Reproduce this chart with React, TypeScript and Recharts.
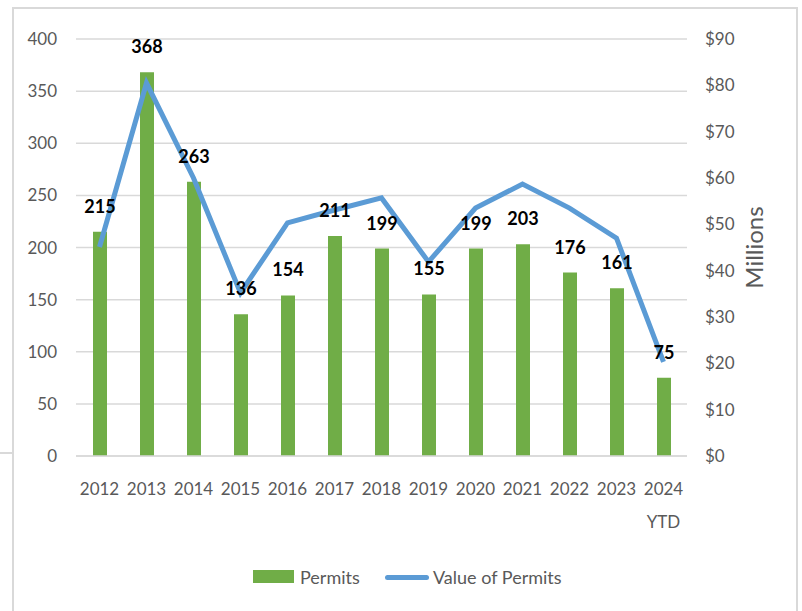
import { ComposedChart, Bar, Line, XAxis, YAxis, CartesianGrid, LabelList, Label } from 'recharts'

const years = ['2012', '2013', '2014', '2015', '2016', '2017', '2018', '2019', '2020', '2021', '2022', '2023', '2024 YTD']
const permits = [215, 368, 263, 136, 154, 211, 199, 155, 199, 203, 176, 161, 75]
const valueMillions = [45.1, 80.5, 60, 35.2, 50.3, 53.1, 55.7, 41.9, 53.5, 58.7, 53.5, 47, 20.3]
const permitTicks = [0, 50, 100, 150, 200, 250, 300, 350, 400]
const valueTicks = [0, 10, 20, 30, 40, 50, 60, 70, 80, 90]

const data = years.map((year, i) => ({ year, permits: permits[i], value: valueMillions[i] }))

const GREEN = '#70AD47'
const BLUE = '#5B9BD5'
const GRID = '#D9D9D9'
const TEXT = '#595959'
const FONT = 'Lato, sans-serif'

function YearTick({ x, y, payload }: any) {
  const lines = String(payload.value).split(' ')
  return (
    <text x={x} y={y + 39} textAnchor="middle" fill={TEXT} fontSize={17} fontFamily={FONT}>
      {lines.map((l, i) => (
        <tspan key={i} x={x} dy={i === 0 ? 0 : 33}>
          {l}
        </tspan>
      ))}
    </text>
  )
}

function BarValue({ x, y, width, value }: any) {
  return (
    <text x={x + width / 2} y={y - 19} textAnchor="middle" fill="#000" fontSize={18} fontWeight="bold" fontFamily={FONT}>
      {value}
    </text>
  )
}

function MillionsLabel({ viewBox }: any) {
  const cx = viewBox.x + viewBox.width / 2 + 16
  const cy = viewBox.y + viewBox.height / 2
  return (
    <text
      x={cx}
      y={cy}
      transform={`rotate(-90, ${cx}, ${cy})`}
      textAnchor="middle"
      dominantBaseline="central"
      fill={TEXT}
      fontSize={24}
      fontFamily={FONT}
    >
      Millions
    </text>
  )
}

export default function App() {
  return (
    <div style={{ position: 'absolute', left: 0, top: 0, width: 802, height: 611, background: '#fff', overflow: 'hidden' }}>
      <div style={{ position: 'absolute', left: 12, top: 7, width: 782, height: 620, border: `2px solid ${GRID}` }} />
      <div style={{ position: 'absolute', left: 0, top: 452, width: 13, height: 2, background: GRID }} />
      <div style={{ position: 'absolute', left: 0, top: 0 }}>
        <ComposedChart width={802} height={611} data={data} margin={{ top: 39, right: 15, bottom: 95, left: 16 }}>
          <CartesianGrid vertical={false} stroke={GRID} strokeWidth={1.5} yAxisId="left" />
          <XAxis
            dataKey="year"
            height={60}
            axisLine={{ stroke: GRID, strokeWidth: 1.5 }}
            tickLine={false}
            tickSize={0}
            tickMargin={0}
            interval={0}
            tick={<YearTick />}
          />
          <YAxis
            yAxisId="left"
            width={60}
            domain={[0, 400]}
            ticks={permitTicks}
            axisLine={false}
            tickLine={false}
            tickSize={0}
            tickMargin={19}
            tick={{ fill: TEXT, fontSize: 17, fontFamily: FONT }}
          />
          <YAxis
            yAxisId="right"
            orientation="right"
            width={100}
            domain={[0, 90]}
            ticks={valueTicks}
            axisLine={false}
            tickLine={false}
            tickSize={0}
            tickMargin={18}
            tickFormatter={(v) => `$${v}`}
            tick={{ fill: TEXT, fontSize: 17, fontFamily: FONT }}
          >
            <Label content={<MillionsLabel />} position="center" />
          </YAxis>
          <Bar yAxisId="left" dataKey="permits" fill={GREEN} barSize={14} isAnimationActive={false}>
            <LabelList dataKey="permits" content={<BarValue />} />
          </Bar>
          <Line
            yAxisId="right"
            type="linear"
            dataKey="value"
            stroke={BLUE}
            strokeWidth={5}
            dot={false}
            activeDot={false}
            isAnimationActive={false}
          />
        </ComposedChart>
      </div>
      <div style={{ position: 'absolute', left: 253, top: 570, width: 41, height: 13, background: GREEN }} />
      <div style={{ position: 'absolute', left: 300, top: 565, fontSize: 18, lineHeight: '24px', color: TEXT, fontFamily: FONT }}>
        Permits
      </div>
      <div style={{ position: 'absolute', left: 385, top: 575, width: 44, height: 5, borderRadius: 3, background: BLUE }} />
      <div style={{ position: 'absolute', left: 433, top: 565, fontSize: 18, lineHeight: '24px', color: TEXT, fontFamily: FONT }}>
        Value of Permits
      </div>
    </div>
  )
}
